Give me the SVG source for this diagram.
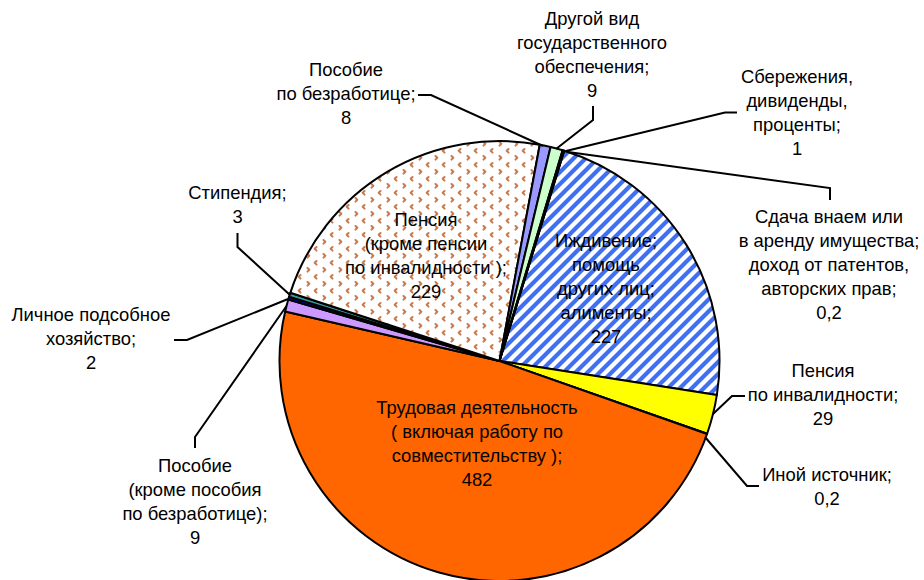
<svg xmlns="http://www.w3.org/2000/svg" width="924" height="580" viewBox="0 0 924 580">
<style>
text{font-family:"Liberation Sans",Arial,sans-serif;font-size:18.4px;fill:#000;text-anchor:middle}
.s{stroke:#000;stroke-width:2;stroke-linejoin:round}
.ld{fill:none;stroke:#000;stroke-width:2}
</style>
<defs>
<pattern id="hatch" patternUnits="userSpaceOnUse" width="12" height="12">
<rect width="12" height="12" fill="#fff"/>
<path d="M-3,3 L3,-3 M0,12 L12,0 M9,15 L15,9" stroke="#3F6FF5" stroke-width="4.2"/>
</pattern>
<pattern id="divot" patternUnits="userSpaceOnUse" width="16" height="14">
<rect width="16" height="14" fill="#fff"/>
<path d="M3.5,2 L5.3,3.8 L3.5,5.6 M12.5,9 L10.7,10.8 L12.5,12.6" fill="none" stroke="#C8784A" stroke-width="2" stroke-linecap="round" stroke-linejoin="round"/>
</pattern>
</defs>
<rect width="924" height="580" fill="#fff"/>
<g id="slice-izhdivenie">
<path class="s" fill="url(#hatch)" d="M499.5,361 L564.19,150.73 A220,220 0 0 1 716.87,394.92 Z"/>
<text x="606" y="247">Иждивение;</text>
<text x="606" y="271">помощь</text>
<text x="606" y="295">других лиц;</text>
<text x="606" y="319">алименты;</text>
<text x="606" y="343">227</text>
</g>
<g id="slice-pensiya-inv">
<path class="s" fill="#FFFF00" d="M499.5,361 L716.87,394.92 A220,220 0 0 1 707.12,433.77 Z"/>
<text x="823" y="377">Пенсия</text>
<text x="823" y="401">по инвалидности;</text>
<text x="823" y="425">29</text>
</g>
<g id="slice-inoy">
<path class="s" fill="#808080" d="M499.5,361 L707.12,433.77 A220,220 0 0 1 707.03,434.03 Z"/>
<text x="827" y="481">Иной источник;</text>
<text x="827" y="505">0,2</text>
</g>
<g id="slice-trud">
<path class="s" fill="#FF6600" d="M499.5,361 L707.03,434.03 A220,220 0 0 1 285.15,311.47 Z"/>
<text x="477" y="414">Трудовая деятельность</text>
<text x="477" y="438">( включая работу по</text>
<text x="477" y="462">совместительству );</text>
<text x="477" y="486">482</text>
</g>
<g id="slice-posobie-krome">
<path class="s" fill="#CC99FF" d="M499.5,361 L285.15,311.47 A220,220 0 0 1 288.29,299.43 Z"/>
<text x="195" y="472">Пособие</text>
<text x="195" y="496">(кроме пособия</text>
<text x="195" y="520">по безработице);</text>
<text x="195" y="544">9</text>
</g>
<g id="slice-lichnoe">
<path class="s" fill="#0000FF" d="M499.5,361 L288.29,299.43 A220,220 0 0 1 289.08,296.78 Z"/>
<text x="91" y="321">Личное подсобное</text>
<text x="91" y="345">хозяйство;</text>
<text x="91" y="369">2</text>
</g>
<g id="slice-stipendiya">
<path class="s" fill="#339999" d="M499.5,361 L289.08,296.78 A220,220 0 0 1 290.33,292.82 Z"/>
<text x="237.5" y="199">Стипендия;</text>
<text x="237.5" y="223">3</text>
</g>
<g id="slice-pensiya">
<path class="s" fill="url(#divot)" d="M499.5,361 L290.33,292.82 A220,220 0 0 1 539.76,144.72 Z"/>
<text x="426" y="226">Пенсия</text>
<text x="426" y="250">(кроме пенсии</text>
<text x="426" y="274">по инвалидности );</text>
<text x="426" y="298">229</text>
</g>
<g id="slice-posobie-bezrab">
<path class="s" fill="#9999FF" d="M499.5,361 L539.76,144.72 A220,220 0 0 1 550.58,147.01 Z"/>
<text x="346" y="76">Пособие</text>
<text x="346" y="100">по безработице;</text>
<text x="346" y="124">8</text>
</g>
<g id="slice-drugoy">
<path class="s" fill="#CCFFCC" d="M499.5,361 L550.58,147.01 A220,220 0 0 1 562.60,150.24 Z"/>
<text x="592" y="25">Другой вид</text>
<text x="592" y="49">государственного</text>
<text x="592" y="73">обеспечения;</text>
<text x="592" y="97">9</text>
</g>
<g id="slice-sberezheniya">
<path class="s" fill="#993300" d="M499.5,361 L562.60,150.24 A220,220 0 0 1 563.92,150.64 Z"/>
<text x="797" y="83">Сбережения,</text>
<text x="797" y="107">дивиденды,</text>
<text x="797" y="131">проценты;</text>
<text x="797" y="155">1</text>
</g>
<g id="slice-sdacha">
<path class="s" fill="#CC6600" d="M499.5,361 L563.92,150.64 A220,220 0 0 1 564.19,150.73 Z"/>
<text x="829" y="223">Сдача внаем или</text>
<text x="829" y="247">в аренду имущества;</text>
<text x="829" y="271">доход от патентов,</text>
<text x="829" y="295">авторских прав;</text>
<text x="829" y="319">0,2</text>
</g>
<g id="connectors">
<polyline class="ld" points="418,95 431,95 543,146"/>
<polyline class="ld" points="593,106 593,120 556,149"/>
<polyline class="ld" points="737,112.5 725,112.5 566,151"/>
<polyline class="ld" points="568,152 830,188 830,200"/>
<polyline class="ld" points="745,396 732,396 713,414"/>
<polyline class="ld" points="705,437 747,486 759,486"/>
<polyline class="ld" points="195,448 195,437 286.5,306"/>
<polyline class="ld" points="174,340 187,340 288,299"/>
<polyline class="ld" points="237.5,233 237.5,247 290,295"/>
</g>
</svg>
